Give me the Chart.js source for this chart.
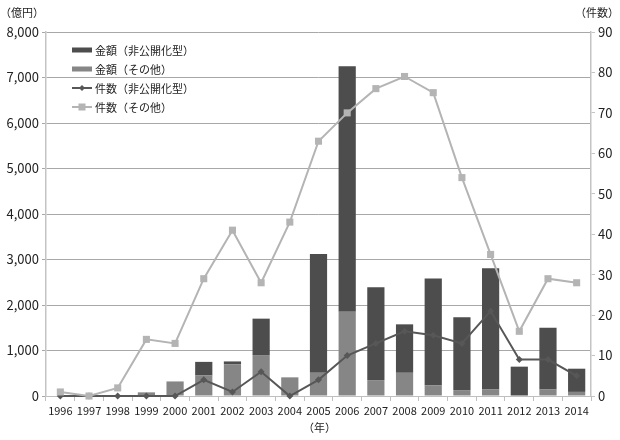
<!DOCTYPE html>
<html>
<head>
<meta charset="utf-8">
<script src="https://cdn.jsdelivr.net/npm/chart.js@4/dist/chart.umd.min.js"></script>
<style>
html,body{margin:0;padding:0;background:#fff;}
#wrap{width:620px;height:440px;position:relative;}
</style>
</head>
<body>
<div id="wrap"><canvas id="c"></canvas></div>
<script>
const years = ['1996','1997','1998','1999','2000','2001','2002','2003','2004','2005','2006','2007','2008','2009','2010','2011','2012','2013','2014'];
const amountPrivate = [0,0,0,0,0,300,60,800,0,2610,5400,2040,1065,2350,1600,2660,645,1350,510];
const amountOther   = [0,0,0,80,320,450,700,900,410,510,1850,350,510,230,130,150,0,150,90];
const countPrivate  = [0,0,0,0,0,4,1,6,0,4,10,13,16,15,13,21,9,9,5];
const countOther    = [1,0,2,14,13,29,41,28,43,63,70,76,79,75,54,35,16,29,28];
const leftTicks = [0,1000,2000,3000,4000,5000,6000,7000,8000];
const rightTicks = [0,10,20,30,40,50,60,70,80,90];
const labels = ['金額（非公開化型）','金額（その他）','件数（非公開化型）','件数（その他）'];

const FONT = '"Noto Sans CJK JP", "Noto Sans", sans-serif';
const C_DARKBAR = '#4d4d4d', C_LIGHTBAR = '#868686', C_DARKLINE = '#575757', C_LIGHTLINE = '#b4b4b4';

const extras = {
  id: 'extras',
  afterDraw(chart) {
    const ctx = chart.ctx;
    ctx.save();
    ctx.fillStyle = '#222';
    ctx.font = '11px ' + FONT;
    ctx.textBaseline = 'middle';
    ctx.textAlign = 'center';
    ctx.fillText('（億円）', 22, 13);
    ctx.fillText('（件数）', 597, 13);
    const ca = chart.chartArea;
    ctx.fillText('（年）', (ca.left + ca.right) / 2 + 1, 428);
    // legend
    const rows = [50, 69, 88, 107];
    const x0 = 72, x1 = 92;
    ctx.textAlign = 'left';
    ctx.fillStyle = C_DARKBAR; ctx.fillRect(x0, rows[0] - 2.5, x1 - x0, 5);
    ctx.fillStyle = C_LIGHTBAR; ctx.fillRect(x0, rows[1] - 2.5, x1 - x0, 5);
    ctx.lineWidth = 2;
    ctx.strokeStyle = C_DARKLINE;
    ctx.beginPath(); ctx.moveTo(x0, rows[2]); ctx.lineTo(x1, rows[2]); ctx.stroke();
    ctx.fillStyle = C_DARKLINE;
    ctx.beginPath(); const cx = (x0 + x1) / 2;
    ctx.moveTo(cx, rows[2] - 3); ctx.lineTo(cx + 3, rows[2]); ctx.lineTo(cx, rows[2] + 3); ctx.lineTo(cx - 3, rows[2]); ctx.closePath(); ctx.fill();
    ctx.strokeStyle = C_LIGHTLINE;
    ctx.beginPath(); ctx.moveTo(x0, rows[3]); ctx.lineTo(x1, rows[3]); ctx.stroke();
    ctx.fillStyle = C_LIGHTLINE; ctx.fillRect(cx - 3.5, rows[3] - 3.5, 7, 7);
    ctx.fillStyle = '#222';
    ctx.font = '11px ' + FONT;
    labels.forEach((t, i) => ctx.fillText(t, 95, rows[i] + 0.5));
    ctx.restore();
  }
};

new Chart(document.getElementById('c'), {
  type: 'bar',
  data: {
    labels: years,
    datasets: [
      { type: 'bar', label: labels[1], data: amountOther, backgroundColor: C_LIGHTBAR, yAxisID: 'y', order: 2, categoryPercentage: 1, barPercentage: 0.6 },
      { type: 'bar', label: labels[0], data: amountPrivate, backgroundColor: C_DARKBAR, yAxisID: 'y', order: 2, categoryPercentage: 1, barPercentage: 0.6 },
      { type: 'line', label: labels[2], data: countPrivate, borderColor: C_DARKLINE, backgroundColor: C_DARKLINE, borderWidth: 2, pointStyle: 'rectRot', pointRadius: 3.5, pointBorderWidth: 0, yAxisID: 'y1', order: 1, tension: 0, clip: false },
      { type: 'line', label: labels[3], data: countOther, borderColor: C_LIGHTLINE, backgroundColor: C_LIGHTLINE, borderWidth: 2, pointStyle: 'rect', pointRadius: 5, pointBorderWidth: 0, yAxisID: 'y1', order: 0, tension: 0, clip: false }
    ]
  },
  options: {
    responsive: true,
    maintainAspectRatio: false,
    animation: false,
    layout: { padding: { top: 32, left: 0, right: 0, bottom: 0 } },
    plugins: { legend: { display: false }, tooltip: { enabled: false } },
    scales: {
      x: {
        stacked: true,
        grid: { display: true, drawOnChartArea: false, tickLength: 5, color: '#bfbfbf', offset: true },
        border: { color: '#bfbfbf', width: 1 },
        ticks: { color: '#222', font: { family: FONT, size: 11 }, padding: 3, maxRotation: 0, autoSkip: false },
        afterFit(s) { s.height = 44; }
      },
      y: {
        stacked: true,
        position: 'left',
        min: 0, max: 8000,
        afterBuildTicks(s) { s.ticks = leftTicks.map(v => ({ value: v })); },
        grid: { color: '#a8a8a8', lineWidth: 1, tickLength: 4 },
        border: { color: '#c4c4c4', width: 1.5 },
        ticks: { color: '#222', font: { family: FONT, size: 13 }, padding: 3, callback: v => v.toLocaleString('en-US') },
        afterFit(s) { s.width = 46; }
      },
      y1: {
        position: 'right',
        min: 0, max: 90,
        afterBuildTicks(s) { s.ticks = rightTicks.map(v => ({ value: v })); },
        grid: { drawOnChartArea: false, color: '#c4c4c4', tickLength: 4 },
        border: { color: '#c4c4c4', width: 1.5 },
        ticks: { color: '#222', font: { family: FONT, size: 13 }, padding: 3 },
        afterFit(s) { s.width = 29; }
      }
    }
  },
  plugins: [extras]
});
</script>
</body>
</html>
